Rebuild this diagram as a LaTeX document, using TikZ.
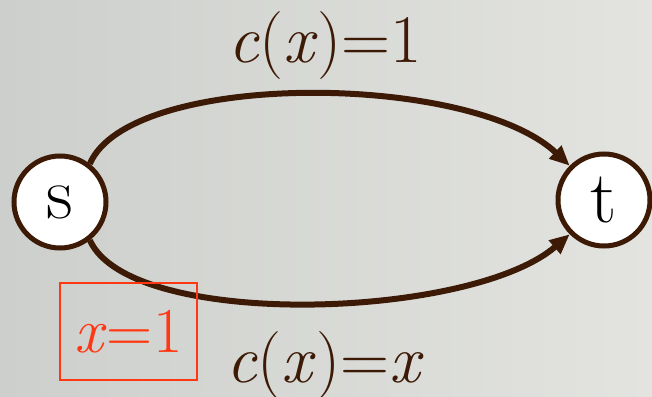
\documentclass[tikz,border=0pt]{standalone}
\usetikzlibrary{arrows.meta}
\definecolor{brn}{HTML}{3D1A05}
\definecolor{redc}{HTML}{FF3814}
\definecolor{bgl}{HTML}{CDCFCC}
\definecolor{bgr}{HTML}{E3E4E0}
\tikzset{
  vtx/.style={circle,draw=brn,fill=white,line width=5pt,minimum size=92pt,inner sep=0pt,font=\fontsize{74}{76}\selectfont},
  edge/.style={draw=brn,line width=6pt,-{Triangle[length=20pt,width=17pt]}},
  lbl/.style={text=brn,font=\fontsize{68}{70}\selectfont,inner sep=0pt,anchor=base},
  xbox/.style={draw=redc,line width=2pt,text=redc,font=\fontsize{64}{66}\selectfont,minimum width=137pt,minimum height=97pt,inner sep=0pt}
}
\begin{document}
\begin{tikzpicture}[x=1pt,y=-1pt]
\shade[left color=bgl,right color=bgr] (0,0) rectangle (652,396);
\useasboundingbox (0,0) rectangle (652,396);
\node[vtx] (s) at (60,202) {s};
\node[vtx] (t) at (604,200) {t};
\draw[edge] (s.52) .. controls (130,70) and (470,72) .. (t.135);
\draw[edge] (s.-52) .. controls (130,330) and (470,320) .. (t.-135);
\node[lbl] (top) at (325,63) {\textit{c}(\textit{x})=1};
\node[lbl] (bot) at (325,382) {\textit{c}(\textit{x})=\textit{x}};
\node[xbox] (xb) at (128.5,331.5) {\textit{x}=1};
\end{tikzpicture}
\end{document}
